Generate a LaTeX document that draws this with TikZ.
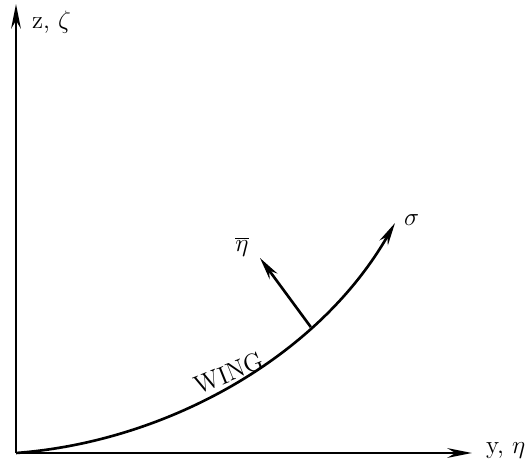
\documentclass[tikz,border=0pt]{standalone}
\usetikzlibrary{arrows.meta, positioning, calc}

\begin{document}
\begin{tikzpicture}[
    x=0.02cm, y=-0.02cm,
    axis/.style={line width=1.6pt, -{Stealth[length=14pt, width=5.5pt]}},
    arrow/.style={line width=1.5pt, -{Stealth[length=13pt, width=5.5pt]}},
    lbl/.style={font=\Large, inner sep=1pt},
    every node/.style={inner sep=2pt}
]
\useasboundingbox (0,0) rectangle (528,459);

% =================== AXES ===================
\coordinate (O) at (16,453);
\coordinate (ztip) at (16,4);
\coordinate (ytip) at (472,453);

\draw[axis] (O) -- (ztip);
\draw[axis] (O) -- (ytip);

\node[lbl, anchor=west] (zlab) at (30,22) {z, $\zeta$};
\node[lbl, anchor=west] (ylab) at (484,451) {y, $\eta$};

% =================== WING CURVE ===================
\coordinate (stip) at (395,223);
\draw[arrow] (O) .. controls (165,442) and (318,358) .. (stip)
    coordinate[pos=0.71] (base);

\node[lbl, anchor=west] (sig) at (402,220) {$\sigma$};
\node[font=\Large, rotate=22, inner sep=0pt] (wlab) at (229,373) {WING};

% =================== NORMAL ===================
\coordinate (ntip) at (260,258);
\draw[arrow] (base) -- (ntip);
\node[lbl] (eta) at (242,247) {$\overline{\eta}$};

\end{tikzpicture}
\end{document}
